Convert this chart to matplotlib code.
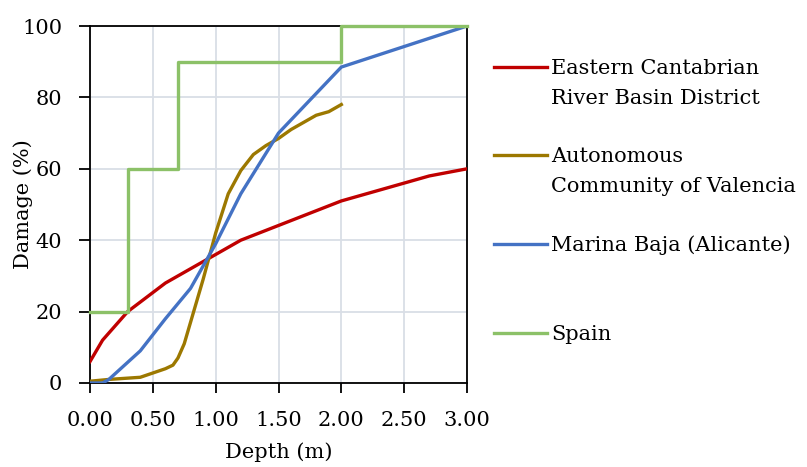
import matplotlib
matplotlib.use("Agg")
import matplotlib.pyplot as plt

plt.rcParams["font.family"] = ["DejaVu Serif"]
plt.rcParams["font.size"] = 15

# Eastern Cantabrian River Basin District
cant_x = [0, 0.1, 0.3, 0.6, 0.8, 1.0, 1.2, 2.0, 2.1, 2.7, 3.0]
cant_y = [6, 12, 20, 28, 32, 36, 40, 51, 52, 58, 60]

# Autonomous Community of Valencia
val_x = [0, 0.15, 0.4, 0.6, 0.66, 0.7, 0.75, 0.8, 0.9, 1.0, 1.1, 1.2, 1.3, 1.4, 1.5, 1.6, 1.7, 1.8, 1.9, 2.0]
val_y = [0.5, 1, 1.6, 4, 5, 7, 11, 17, 29, 42, 53, 59.5, 64, 66.5, 68.5, 71, 73, 75, 76, 78]

# Marina Baja (Alicante)
mb_x = [0, 0.1, 0.15, 0.4, 0.6, 0.8, 1.0, 1.2, 1.5, 2.0, 3.0]
mb_y = [0, 0, 1, 9, 18, 26.5, 39, 53, 70, 88.5, 100]

# Spain (step function)
sp_x = [0, 0.3, 0.3, 0.7, 0.7, 2.0, 2.0, 3.0]
sp_y = [20, 20, 60, 60, 90, 90, 100, 100]

# legend text: first line goes next to the handle, second line below it
labels = ["Eastern Cantabrian", "Autonomous", "Marina Baja (Alicante)", "Spain"]
labels2 = ["River Basin District", "Community of Valencia", "", ""]
colors = ["#C00000", "#9C7800", "#4472C4", "#8CC168"]

fig = plt.figure(figsize=(8.07, 4.67), dpi=100)
ax = fig.add_axes([90 / 807, 1 - 383 / 467, 377 / 807, 357 / 467])

lw = 2.4
l1, = ax.plot(cant_x, cant_y, color=colors[0], lw=lw, zorder=3)
l2, = ax.plot(val_x, val_y, color=colors[1], lw=lw, zorder=3)
l3, = ax.plot(mb_x, mb_y, color=colors[2], lw=lw, zorder=3)
l4, = ax.plot(sp_x, sp_y, color=colors[3], lw=lw, zorder=4, clip_on=False)

ax.set_xlim(0, 3)
ax.set_ylim(0, 100)
ax.set_xticks([0, 0.5, 1, 1.5, 2, 2.5, 3])
ax.set_xticklabels(["0.00", "0.50", "1.00", "1.50", "2.00", "2.50", "3.00"])
ax.set_yticks([0, 20, 40, 60, 80, 100])
ax.grid(True, color="#D9DEE6", lw=1.3, zorder=0)
ax.set_axisbelow(True)
for s in ax.spines.values():
    s.set_color("black")
    s.set_linewidth(1.3)
ax.tick_params(axis="x", direction="out", length=7, width=1.3, colors="black", pad=13)
ax.tick_params(axis="y", direction="out", length=8, width=1.3, colors="black", pad=12)
ax.set_xlabel("Depth (m)")
ax.set_ylabel("Damage (%)")
ax.xaxis.set_label_coords(0.5, -0.165)
ax.yaxis.set_label_coords(-0.151, 0.5)

leg = fig.legend([l1, l2, l3, l4], labels, loc="upper left",
                 bbox_to_anchor=(494 / 807, 1 - 59 / 467), frameon=False,
                 handlelength=2.55, handletextpad=0.2, labelspacing=3.33,
                 borderaxespad=0, borderpad=0)

fig.canvas.draw()
for t, extra in zip(leg.get_texts(), labels2):
    if extra:
        bb = t.get_window_extent()
        fig.text(bb.x0 / 807, (bb.y0 - 30) / 467, extra, ha="left", va="bottom")

fig.savefig("out.png", dpi=100)
